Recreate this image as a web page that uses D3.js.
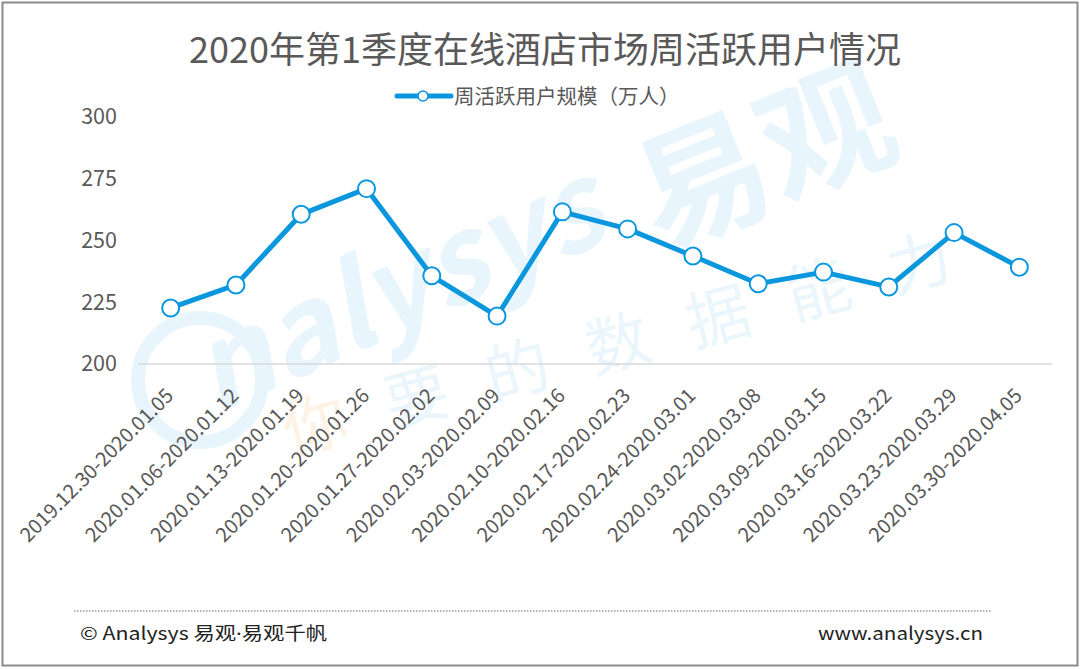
<!DOCTYPE html>
<html>
<head>
<meta charset="utf-8">
<script src="https://cdn.jsdelivr.net/npm/d3@7"></script>
<style>
  html, body { margin: 0; padding: 0; background: #fff; }
  svg { display: block; }
  text { font-family: "Noto Sans CJK SC", "Noto Sans", sans-serif; }
</style>
</head>
<body>
<svg id="chart" width="1080" height="669"></svg>
<script>
// ---- data ----
const titleText = "2020年第1季度在线酒店市场周活跃用户情况";
const seriesName = "周活跃用户规模（万人）";
const categories = [
  "2019.12.30-2020.01.05",
  "2020.01.06-2020.01.12",
  "2020.01.13-2020.01.19",
  "2020.01.20-2020.01.26",
  "2020.01.27-2020.02.02",
  "2020.02.03-2020.02.09",
  "2020.02.10-2020.02.16",
  "2020.02.17-2020.02.23",
  "2020.02.24-2020.03.01",
  "2020.03.02-2020.03.08",
  "2020.03.09-2020.03.15",
  "2020.03.16-2020.03.22",
  "2020.03.23-2020.03.29",
  "2020.03.30-2020.04.05"
];
const values = [222.7, 232.0, 260.6, 271.0, 235.7, 219.4, 261.6, 254.7, 243.7, 232.5, 237.2, 231.2, 253.2, 239.2];
const yTicks = [200, 225, 250, 275, 300];
const footerLeftA = "© Analysys 易观";
const footerDot = "·";
const footerLeftB = "易观千帆";
const footerRight = "www.analysys.cn";

// ---- drawing ----
const W = 1080, H = 669;
const svg = d3.select("#chart");
const blue = "#0b97dd";
const grey = "#595959";
const FONT = '"Noto Sans CJK SC", "Noto Sans", sans-serif';

// frame
svg.append("rect").attr("x", 2.5).attr("y", 2.5).attr("width", W - 5).attr("height", H - 6)
  .attr("fill", "#fff").attr("stroke", "#8c8c8c").attr("stroke-width", 2);

// watermark
const wm = svg.append("g").attr("pointer-events", "none");
wm.append("circle").attr("cx", 200).attr("cy", 380).attr("r", 62)
  .attr("fill", "none").attr("stroke", "#e9f5fc").attr("stroke-width", 14);
wm.append("text").attr("transform", "translate(215,415) rotate(-24)")
  .attr("font-size", 118).attr("font-weight", "bold").attr("font-style", "italic")
  .attr("fill", "#e9f5fc").text("nalysys");
wm.append("text").attr("transform", "translate(660,250) rotate(-22)")
  .attr("font-size", 132).attr("font-weight", "bold")
  .attr("fill", "#e9f5fc").text("易观");
wm.append("text").attr("transform", "translate(290,455) rotate(-15)")
  .attr("font-size", 64)
  .attr("fill", "#fdf2e6").text("你");
wm.append("text").attr("transform", "translate(392,428) rotate(-15)")
  .attr("font-size", 64).attr("letter-spacing", 40)
  .attr("fill", "#eaf6fc").text("要的数据能力");

// scales
const x = d3.scaleBand().domain(categories).range([138, 1052]).padding(0);
const y = d3.scaleLinear().domain([200, 300]).range([364, 117]);

// title
svg.append("text").attr("x", 545).attr("y", 63).attr("text-anchor", "middle")
  .attr("font-size", 36).attr("fill", grey).text(titleText);

// legend
const lg = svg.append("g");
lg.append("line").attr("x1", 397).attr("x2", 451).attr("y1", 96).attr("y2", 96)
  .attr("stroke", blue).attr("stroke-width", 5).attr("stroke-linecap", "round");
lg.append("circle").attr("cx", 423).attr("cy", 96).attr("r", 5)
  .attr("fill", "#fff").attr("stroke", blue).attr("stroke-width", 1.5);
lg.append("text").attr("x", 454).attr("y", 103.5).attr("font-size", 20.5)
  .attr("fill", grey).text(seriesName);

// y axis labels
const yAxis = d3.axisLeft(y).tickValues(yTicks).tickSize(0).tickPadding(0);
const yg = svg.append("g").attr("transform", "translate(117,0)").call(yAxis);
yg.select(".domain").remove();
yg.selectAll("text").attr("font-size", 21.5).attr("fill", grey)
  .attr("font-family", FONT);

// baseline
svg.append("line").attr("x1", 138).attr("x2", 1052).attr("y1", y(200)).attr("y2", y(200))
  .attr("stroke", "#d9d9d9").attr("stroke-width", 1.5);

// x axis labels
const xAxis = d3.axisBottom(x).tickSize(0).tickPadding(0);
const xg = svg.append("g").attr("transform", `translate(0,${y(200)})`).call(xAxis);
xg.select(".domain").remove();
xg.selectAll(".tick text")
  .attr("font-size", 20).attr("fill", grey)
  .attr("font-family", FONT)
  .attr("text-anchor", "end").attr("dy", 0).attr("y", 0)
  .attr("transform", "translate(4,33) rotate(-45)");

// line
const line = d3.line().x((d, i) => x(categories[i]) + x.bandwidth() / 2).y(d => y(d));
svg.append("path").datum(values).attr("d", line)
  .attr("fill", "none").attr("stroke", blue).attr("stroke-width", 5)
  .attr("stroke-linejoin", "round");
svg.append("g").selectAll("circle").data(values).join("circle")
  .attr("cx", (d, i) => x(categories[i]) + x.bandwidth() / 2)
  .attr("cy", d => y(d)).attr("r", 8.5)
  .attr("fill", "#fff").attr("stroke", blue).attr("stroke-width", 2);

// footer
svg.append("line").attr("x1", 74).attr("x2", 992).attr("y1", 611).attr("y2", 611)
  .attr("stroke", "#9a9a9a").attr("stroke-width", 1.5).attr("stroke-dasharray", "1.5,1.5");
const fl = svg.append("text").attr("x", 80).attr("y", 640).attr("font-size", 18).attr("fill", "#222")
  .attr("textLength", 247).attr("lengthAdjust", "spacingAndGlyphs");
fl.append("tspan").text(footerLeftA);
fl.append("tspan").attr("font-family", '"Noto Sans", sans-serif').text(footerDot);
fl.append("tspan").text(footerLeftB);
svg.append("text").attr("x", 818).attr("y", 640).attr("font-size", 18).attr("fill", "#222")
  .attr("textLength", 165).attr("lengthAdjust", "spacingAndGlyphs").text(footerRight);
</script>
</body>
</html>
